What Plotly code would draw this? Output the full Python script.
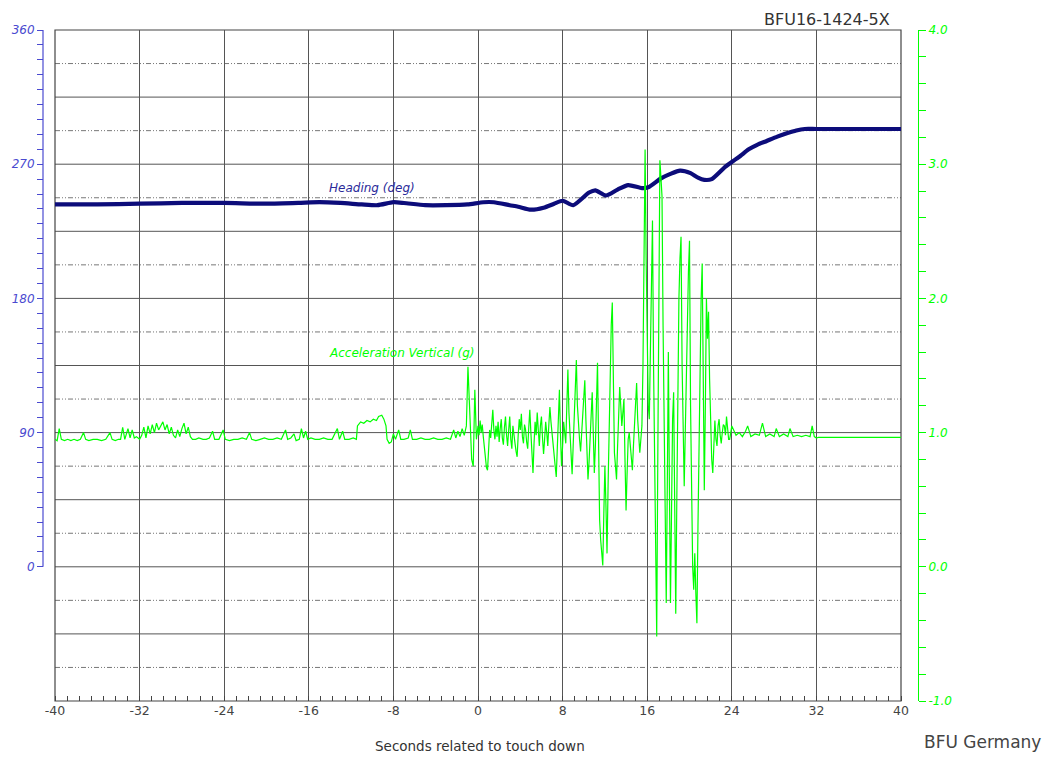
import plotly.graph_objects as go

# page body has an 8px margin, so the figure is drawn 8px in from the window's corner
OFF = 8
W, H = 1052 - 2 * OFF, 762 - 2 * OFF

# ---- data ----
heading_t = [-40, -36, -32, -28, -24, -20, -17, -15, -13, -11, -9.5, -8, -7, -5, -3, -1, 0.5, 1.5, 3, 3.8,
             5, 6.2, 7.2, 8, 9, 10.5, 11.1, 12.1, 13.2, 14.2, 15.5, 16.1, 17.3, 18.2, 19.1, 20.1, 20.8,
             21.4, 22.1, 23.4, 24.1, 24.8, 25.6, 26.4, 27.3, 28.3, 29.2, 30.1, 30.9, 32, 40]
heading_deg = [243, 243, 243.5, 244, 244, 243.5, 244, 244.5, 244, 243, 242.5, 244.5, 244, 242.5, 242.5, 243,
               244.5, 244.5, 242.5, 241.5, 239.5, 240.8, 243.5, 245.5, 242.5, 251, 252.5, 249, 253, 256,
               254, 254.5, 260.5, 263.5, 265.7, 264, 261, 259.5, 260, 268.4, 272, 275.5, 280, 283,
               285.6, 288.5, 290.7, 292.6, 293.6, 293.6, 293.6]

# quiet part before touch down (irregular sample times)
accel_quiet_t = [
    -40.0, -39.8, -39.6, -39.4, -39.1, -38.8, -38.5, -38.2, -37.9, -37.6, -37.3, -37.1, -36.8, -36.4, -36.0,
    -35.6, -35.2, -34.8, -34.6, -34.3, -34.0, -33.8, -33.6, -33.4, -33.1, -32.9, -32.7, -32.5, -32.3, -32.0,
    -31.8, -31.6, -31.4, -31.2, -31.0, -30.8, -30.6, -30.4, -30.2, -30.0, -29.8, -29.6, -29.4, -29.2, -29.0,
    -28.8, -28.6, -28.4, -28.2, -28.0, -27.8, -27.6, -27.4, -27.2, -27.0, -26.7, -26.4, -26.0, -25.7, -25.4,
    -25.1, -24.9, -24.5, -24.1, -23.9, -23.5, -23.1, -22.7, -22.3, -21.9, -21.6, -21.4, -21.0, -20.6, -20.2,
    -19.8, -19.4, -19.0, -18.6, -18.2, -18.0, -17.7, -17.4, -17.2, -16.9, -16.7, -16.5, -16.3, -16.1, -15.8,
    -15.4, -15.0, -14.6, -14.2, -13.8, -13.3, -13.1, -12.8, -12.6, -12.2, -11.8, -11.5, -11.4, -11.1, -10.8,
    -10.5, -10.2, -9.9, -9.6, -9.4, -9.1, -8.9, -8.7, -8.6, -8.4, -8.2, -8.0, -7.8, -7.5, -7.3,
    -7.0, -6.6, -6.4, -6.2, -5.8, -5.4, -5.0, -4.6, -4.2, -3.8, -3.4, -3.0, -2.6, -2.3, -2.1,
    -1.9, -1.7, -1.5, -1.3, -1.1, -0.95, -0.75, -0.6, -0.45, -0.3, -0.15,
]
accel_quiet_g = [
    0.95, 0.94, 1.03, 0.95, 0.94, 0.95, 0.94, 0.95, 0.94, 0.95, 1.00, 0.95, 0.94, 0.95, 0.95,
    0.94, 0.95, 1.00, 0.95, 0.94, 0.95, 0.95, 1.04, 0.95, 1.03, 0.96, 1.02, 0.96, 0.97, 0.95,
    0.98, 1.04, 0.96, 1.05, 0.99, 1.06, 1.00, 1.07, 1.02, 1.05, 1.08, 1.02, 1.06, 0.99, 1.04,
    0.98, 0.96, 1.02, 0.97, 1.03, 1.07, 0.99, 1.04, 0.97, 0.95, 0.95, 0.96, 0.95, 0.95, 0.96,
    1.01, 0.95, 0.95, 1.02, 0.95, 0.94, 0.95, 0.95, 0.96, 0.95, 1.00, 0.95, 0.94, 0.95, 0.96,
    0.95, 0.95, 0.96, 0.95, 1.02, 0.95, 0.96, 0.99, 0.94, 0.95, 1.03, 0.96, 1.01, 0.95, 0.96,
    0.95, 0.95, 0.96, 0.95, 0.95, 1.03, 0.95, 1.01, 0.95, 0.95, 0.96, 0.95, 1.05, 1.08, 1.07,
    1.09, 1.08, 1.10, 1.09, 1.12, 1.13, 1.10, 1.05, 0.95, 0.92, 0.93, 0.99, 0.95, 1.02, 0.95,
    0.95, 0.96, 1.02, 0.95, 0.95, 0.96, 0.95, 0.95, 0.96, 0.95, 0.95, 0.96, 0.95, 1.02, 0.96,
    1.01, 0.97, 1.03, 0.98, 1.05, 1.49, 1.10, 0.80, 0.75, 1.32, 0.95,
]

# rough part from touch down, one reading every 0.1 s from 0.0 s to 24.0 s
accel_rough_start = 0.0
accel_rough_step = 0.1
accel_rough_g = [
    1.05, 0.98, 1.09, 1.00, 1.06, 0.97, 0.88, 0.80, 0.74, 0.72,   # 0.0
    0.90, 1.02, 0.96, 1.08, 1.17, 1.02, 0.95, 1.05, 0.97, 1.08,   # 1.0
    0.93, 1.03, 1.10, 0.96, 0.91, 1.04, 1.12, 0.98, 0.90, 1.02,   # 2.0
    1.12, 0.95, 0.88, 1.05, 1.00, 0.92, 0.86, 0.82, 0.98, 1.10,   # 3.0
    1.02, 1.14, 0.97, 0.92, 1.06, 1.02, 0.93, 0.88, 1.04, 1.17,   # 4.0
    1.00, 0.85, 0.70, 0.92, 1.08, 0.98, 1.15, 1.02, 0.90, 1.05,   # 5.0
    1.12, 0.96, 0.84, 0.95, 1.08, 1.00, 0.90, 1.06, 1.19, 1.08,   # 6.0
    0.98, 0.92, 0.84, 0.75, 0.67, 0.88, 1.05, 1.32, 0.98, 0.75,   # 7.0
    0.90, 1.08, 1.00, 0.92, 1.20, 1.47, 1.15, 0.95, 0.80, 0.69,   # 8.0
    0.90, 1.12, 1.30, 1.54, 1.20, 1.02, 0.95, 0.86, 1.00, 1.15,   # 9.0
    1.25, 1.39, 1.10, 0.80, 0.65, 0.78, 0.95, 1.12, 1.30, 1.00,   # 10.0
    0.70, 0.90, 1.20, 1.52, 0.95, 0.35, 0.20, 0.10, 0.01, 0.40,   # 11.0
    0.75, 0.45, 0.10, 0.60, 1.07, 1.50, 1.80, 1.97, 1.40, 0.85,   # 12.0
    0.75, 0.65, 0.90, 1.15, 1.34, 1.20, 1.05, 1.15, 1.25, 0.80,   # 13.0
    0.42, 0.70, 0.95, 1.00, 0.88, 0.80, 0.72, 0.90, 1.10, 1.25,   # 14.0
    1.37, 1.10, 0.95, 0.85, 0.95, 1.05, 1.50, 2.40, 3.11, 2.30,   # 15.0
    1.59, 1.20, 1.10, 1.70, 2.20, 2.58, 1.50, 0.80, 0.00, -0.52,  # 16.0
    0.80, 2.20, 3.03, 2.90, 2.76, 1.80, 0.90, 0.20, -0.27, 0.60,  # 17.0
    1.60, 0.60, -0.27, 0.40, 1.10, 1.30, 0.40, -0.35, 0.50, 1.50, # 18.0
    2.00, 2.30, 2.46, 1.50, 0.80, 0.60, 1.00, 1.30, 1.80, 2.20,   # 19.0
    2.43, 1.20, 0.40, 0.00, -0.17, 0.10, -0.20, -0.42, 0.30, 0.90, # 20.0
    1.60, 2.00, 2.26, 1.40, 0.57, 1.20, 2.00, 1.70, 1.90, 1.40,   # 21.0
    0.95, 0.80, 0.70, 0.95, 1.09, 0.95, 0.90, 1.05, 1.10, 0.98,   # 22.0
    0.92, 1.00, 1.06, 1.05, 0.98, 1.12, 1.00, 0.95, 0.95, 1.00,   # 23.0
    1.05,                                                          # 24.0
]

# settling part after the rough run (irregular sample times)
accel_tail_t = [24.4, 24.7, 25.0, 25.3, 25.5, 25.8, 26.2, 26.6, 26.9, 27.2, 27.6, 28.0, 28.2, 28.5, 28.9,
                29.3, 29.5, 29.8, 30.2, 30.6, 31.0, 31.4, 31.6, 31.8, 32.0, 32.2, 36.0, 40.0]
accel_tail_g = [0.98, 1.00, 0.97, 1.01, 1.05, 0.97, 0.99, 0.98, 1.07, 0.97, 0.99, 0.97, 1.03, 0.97, 0.99,
                0.97, 1.03, 0.97, 0.98, 0.97, 0.98, 0.97, 1.05, 0.97, 0.96, 0.965, 0.965, 0.965]

x_range = [-40, 40]
x_ticks = [-40, -32, -24, -16, -8, 0, 8, 16, 24, 32, 40]
heading_range = [-90, 360]
heading_labels = [0, 90, 180, 270, 360]
accel_range = [-1, 4]
accel_ticks = [-1.0, 0.0, 1.0, 2.0, 3.0, 4.0]

FONT = "DejaVu Sans"
BLUE_AX = "#4a4ad0"
GREEN = "#00ff00"
NAVY = "#0c0c7a"


def px(rx):
    """reference window pixel x -> paper fraction"""
    return (rx - OFF) / W


def py(ry):
    """reference window pixel y -> paper fraction"""
    return 1 - (ry - OFF) / H


accel_rough_t = [round(accel_rough_start + i * accel_rough_step, 1) for i in range(len(accel_rough_g))]
accel_t = accel_quiet_t + accel_rough_t + accel_tail_t
accel_g = accel_quiet_g + accel_rough_g + accel_tail_g

heading_tickvals = list(range(0, 361, 10))
heading_ticktext = [str(v) if v in heading_labels else "" for v in heading_tickvals]

fig = go.Figure()
fig.add_trace(go.Scatter(x=heading_t, y=heading_deg, mode="lines", xaxis="x", yaxis="y",
                         line=dict(color=NAVY, width=4.2, shape="spline", smoothing=0.6),
                         hoverinfo="skip"))
fig.add_trace(go.Scatter(x=accel_t, y=accel_g, mode="lines", xaxis="x", yaxis="y2",
                         line=dict(color=GREEN, width=1.2), hoverinfo="skip"))

shapes = []
# horizontal grid: solid every 0.5 g, dash-dot in between
for k in range(1, 10):
    v = accel_range[0] + 0.5 * k
    shapes.append(dict(type="line", xref="x domain", x0=0, x1=1, yref="y2", y0=v, y1=v,
                       line=dict(color="#555555", width=1), layer="below"))
for k in range(10):
    v = accel_range[0] + 0.25 + 0.5 * k
    shapes.append(dict(type="line", xref="x domain", x0=0, x1=1, yref="y2", y0=v, y1=v,
                       line=dict(color="#777777", width=1, dash="5px,2px,1px,2px,1px,2px"),
                       layer="below"))
# plot frame
shapes.append(dict(type="rect", xref="x domain", x0=0, x1=1, yref="y domain", y0=0, y1=1,
                   line=dict(color="#444444", width=1.2), layer="below"))
# left (heading) axis line, only from 0 to 360
shapes.append(dict(type="line", xref="paper", x0=px(43), x1=px(43), yref="y",
                   y0=heading_labels[0], y1=heading_labels[-1],
                   line=dict(color=BLUE_AX, width=1.2)))

fig.update_layout(
    width=W, height=H,
    margin=dict(l=0, r=0, t=0, b=0),
    paper_bgcolor="white", plot_bgcolor="white",
    showlegend=False,
    font=dict(family=FONT, size=12, color="#333333"),
    xaxis=dict(domain=[px(55), px(901)], range=x_range, anchor="y",
               tickvals=x_ticks, ticktext=[str(t) for t in x_ticks],
               showgrid=True, gridcolor="#555555", gridwidth=1, zeroline=False,
               ticks="", showline=False, tickfont=dict(size=12.5, color="#444444"),
               minor=dict(ticks="inside", tick0=-40, dtick=8 / 7, ticklen=5,
                          tickcolor="#444444", showgrid=False),
               automargin=False),
    yaxis=dict(domain=[py(701), py(30)], range=heading_range, anchor="free", position=px(43),
               side="left", tickvals=heading_tickvals, ticktext=heading_ticktext,
               showgrid=False, zeroline=False, showline=False,
               ticks="outside", ticklen=6, tickcolor=BLUE_AX,
               tickfont=dict(size=12, color=BLUE_AX, style="italic"),
               automargin=False),
    yaxis2=dict(range=accel_range, overlaying="y", anchor="free", position=px(918),
                side="right", tickvals=accel_ticks,
                ticktext=[f"{v:.1f}" for v in accel_ticks],
                showgrid=False, zeroline=False, showline=True, linecolor=GREEN, linewidth=1.2,
                ticks="outside", ticklen=7, tickcolor=GREEN,
                minor=dict(ticks="outside", dtick=0.2, ticklen=7, tickcolor=GREEN, showgrid=False),
                tickfont=dict(size=12, color=GREEN, style="italic"),
                automargin=False),
    shapes=shapes,
    annotations=[
        dict(text="BFU16-1424-5X", x=px(892), y=1, xref="paper", yref="paper",
             xanchor="right", yanchor="top", showarrow=False,
             font=dict(family=FONT, size=16, color="#333333")),
        dict(text="Heading (deg)", x=px(327), y=py(188), xref="paper", yref="paper",
             xanchor="left", yanchor="middle", showarrow=False,
             font=dict(family=FONT, size=12, color="#2a2a9a", style="italic")),
        dict(text="Acceleration Vertical (g)", x=px(327), y=py(353), xref="paper", yref="paper",
             xanchor="left", yanchor="middle", showarrow=False,
             font=dict(family=FONT, size=12, color=GREEN, style="italic")),
        dict(text="Seconds related to touch down", x=px(480), y=py(746), xref="paper", yref="paper",
             xanchor="center", yanchor="middle", showarrow=False,
             font=dict(family=FONT, size=13.5, color="#333333")),
        dict(text="BFU Germany", x=px(1043), y=0, xref="paper", yref="paper",
             xanchor="right", yanchor="bottom", showarrow=False,
             font=dict(family=FONT, size=17, color="#444444")),
    ],
)

fig.write_html("out.html")
